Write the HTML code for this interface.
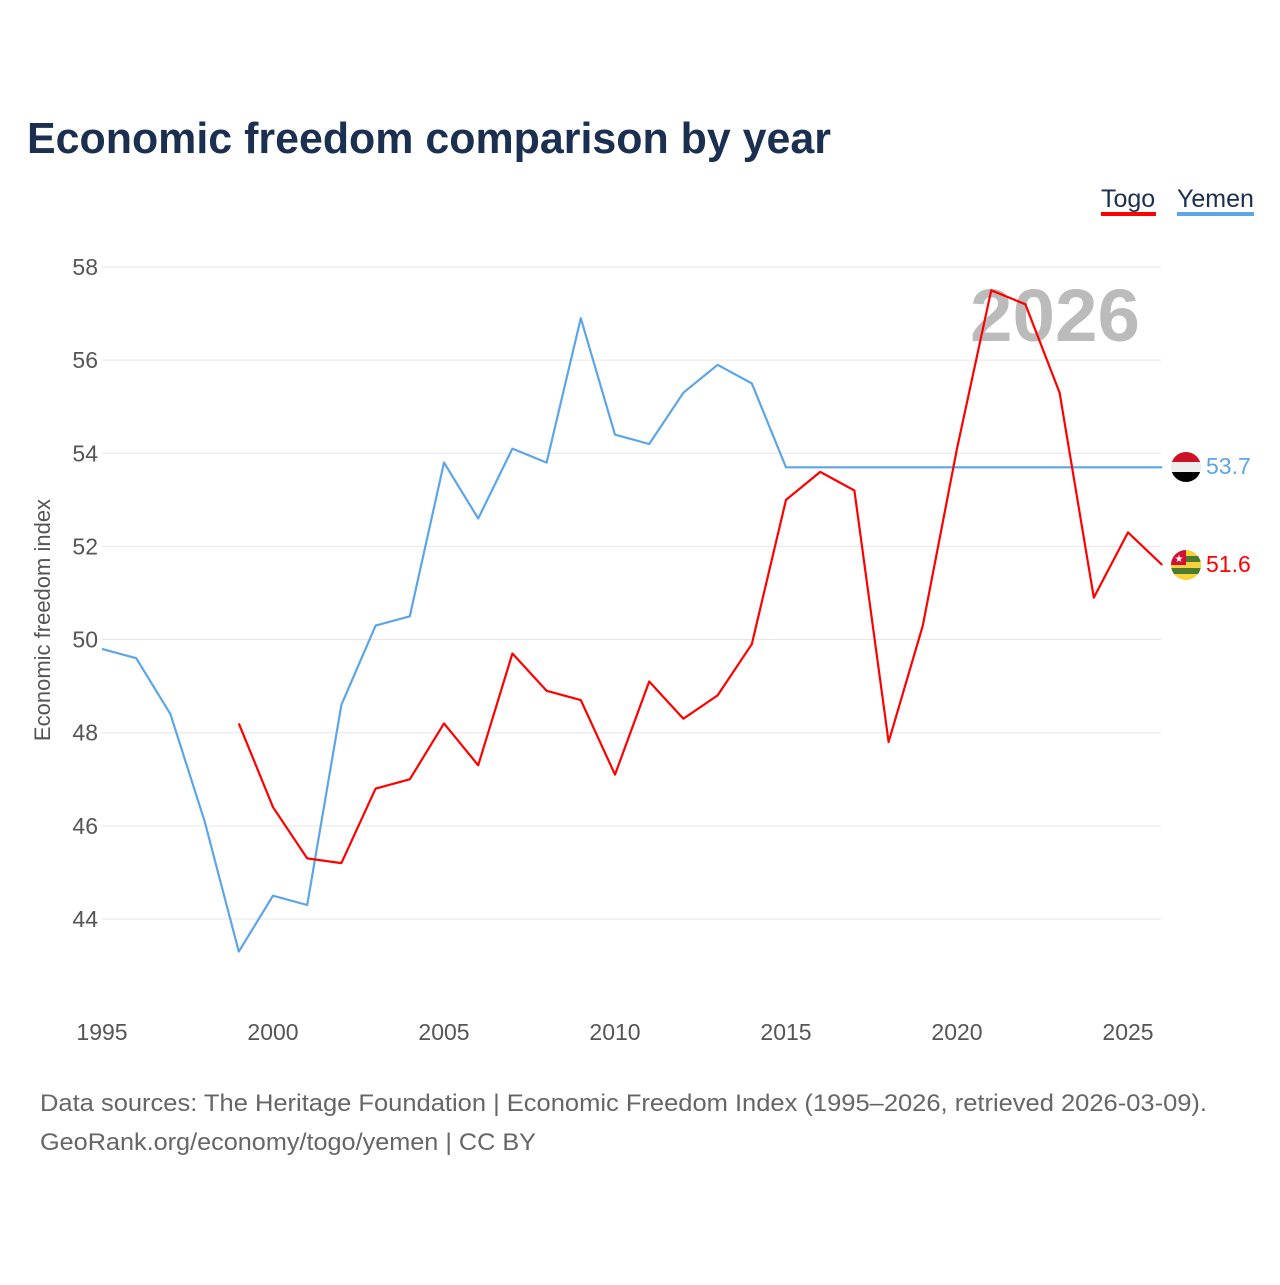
<!DOCTYPE html>
<html><head><meta charset="utf-8">
<style>
body{margin:0;background:#fff;width:1280px;height:1280px;overflow:hidden;font-family:"Liberation Sans",sans-serif}
</style></head>
<body>
<svg id="chart" width="1280" height="1280" xmlns="http://www.w3.org/2000/svg" font-family="Liberation Sans, sans-serif">
<text x="27" y="153" font-size="44" font-weight="bold" fill="#1b2f50" textLength="804" lengthAdjust="spacingAndGlyphs">Economic freedom comparison by year</text>
<g><text x="1101" y="207" font-size="25" fill="#1b2f50">Togo</text><rect x="1101" y="212" width="55" height="4" fill="#f00"/></g>
<g><text x="1177" y="207" font-size="25" fill="#1b2f50">Yemen</text><rect x="1177" y="212" width="77" height="4" fill="#5ca5e8"/></g>
<text x="1140" y="341" text-anchor="end" font-size="74" font-weight="bold" fill="#bbb" textLength="170" lengthAdjust="spacingAndGlyphs">2026</text>
<g id="grid"></g><g id="xt"></g>
<text transform="translate(50,620) rotate(-90)" text-anchor="middle" font-size="22" fill="#555">Economic freedom index</text>
<g id="series"></g>
<g>
<clipPath id="cy"><circle cx="1186" cy="467" r="15"/></clipPath>
<g clip-path="url(#cy)"><rect x="1171" y="452" width="30" height="10" fill="#ce1126"/><rect x="1171" y="462" width="30" height="10" fill="#eee"/><rect x="1171" y="472" width="30" height="10" fill="#000"/></g></g>
<g>
<clipPath id="ct"><circle cx="1186" cy="565" r="15"/></clipPath>
<g clip-path="url(#ct)"><rect x="1171" y="550" width="30" height="30" fill="#f7d23c"/><rect x="1171" y="556" width="30" height="6" fill="#4e7a30"/><rect x="1171" y="568" width="30" height="6" fill="#4e7a30"/><rect x="1171" y="550" width="15" height="15" fill="#d21034"/><text x="1179" y="562" font-size="10" fill="#fff" text-anchor="middle">★</text></g></g>
<text x="1206" y="474" font-size="23" fill="#5ca5e8">53.7</text>
<text x="1206" y="572" font-size="23" fill="#f00">51.6</text>
<text x="40" y="1111" font-size="24" fill="#666" textLength="1167" lengthAdjust="spacingAndGlyphs">Data sources: The Heritage Foundation | Economic Freedom Index (1995–2026, retrieved 2026-03-09).</text>
<text x="40" y="1150" font-size="24" fill="#666" textLength="496" lengthAdjust="spacingAndGlyphs">GeoRank.org/economy/togo/yemen | CC BY</text>
</svg>
<script>
const years=[1995,1996,1997,1998,1999,2000,2001,2002,2003,2004,2005,2006,2007,2008,2009,2010,2011,2012,2013,2014,2015,2016,2017,2018,2019,2020,2021,2022,2023,2024,2025,2026];
const yemen=[49.8,49.6,48.4,46.1,43.3,44.5,44.3,48.6,50.3,50.5,53.8,52.6,54.1,53.8,56.9,54.4,54.2,55.3,55.9,55.5,53.7,53.7,53.7,53.7,53.7,53.7,53.7,53.7,53.7,53.7,53.7,53.7];
const togo=[null,null,null,null,48.2,46.4,45.3,45.2,46.8,47.0,48.2,47.3,49.7,48.9,48.7,47.1,49.1,48.3,48.8,49.9,53.0,53.6,53.2,47.8,50.3,54.1,57.5,57.2,55.3,50.9,52.3,51.6];
const yTicks=[44,46,48,50,52,54,56,58];
const xTicks=[1995,2000,2005,2010,2015,2020,2025];
const X=y=>102+(y-1995)*34.2;
const Y=v=>267+(58-v)*46.57;
const NS="http://www.w3.org/2000/svg";
function mk(t,a,p){const e=document.createElementNS(NS,t);for(const k in a)e.setAttribute(k,a[k]);p.appendChild(e);return e;}
const g=document.getElementById('grid');
yTicks.forEach(v=>{
 const l=mk('line',{x1:102,x2:1161,y1:Y(v),y2:Y(v),stroke:'#e6e6e6','stroke-width':1},g);
 
 
 const t=mk('text',{x:98,y:Y(v)+8,'text-anchor':'end','font-size':23,fill:'#555'},g);
 t.textContent=v;
 
 
});
const xt=document.getElementById('xt');
xTicks.forEach(v=>{
 const t=mk('text',{x:X(v),y:1040,'text-anchor':'middle','font-size':23,fill:'#555'},xt);
 t.textContent=v;
 
 
});
const s=document.getElementById('series');
function line(data,color,w,name){
 let d='';let first=true;
 data.forEach((v,i)=>{if(v==null)return;d+=(first?'M':'L')+X(years[i]).toFixed(1)+','+Y(v).toFixed(1);first=false;});
 const p=mk('path',{d:d,fill:'none',stroke:color,'stroke-width':w,'stroke-linejoin':'round'},s);
 
 
}
line(yemen,'#5ca5e8',2.2,'yemen-line');
line(togo,'#f00',2.2,'togo-line');
</script>
</body></html>
